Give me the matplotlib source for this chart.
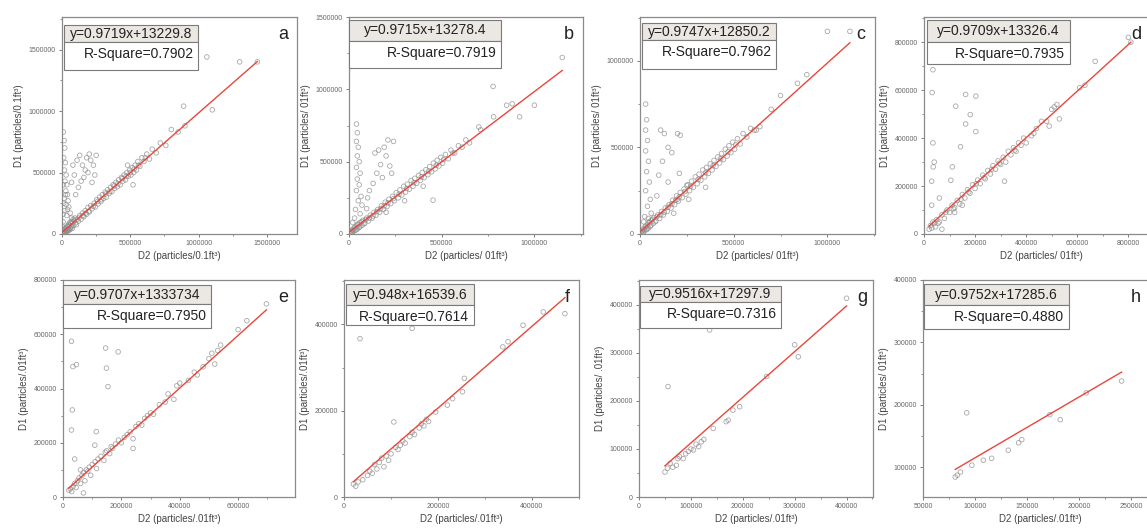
import numpy as np
import matplotlib
matplotlib.use("Agg")
import matplotlib.pyplot as plt
from matplotlib.patches import Rectangle
from matplotlib.ticker import MultipleLocator, AutoMinorLocator

plt.rcParams['font.family'] = ['Liberation Sans', 'DejaVu Sans']

# point values, in thousands of particles
pts_a = [(10, 5), (15, 20), (20, 10), (25, 35), (30, 15), (35, 45), (40, 30), (45, 60), (50, 40), (55, 70),
         (60, 50), (65, 85), (70, 60), (80, 95), (85, 70), (90, 110), (100, 90), (110, 120), (120, 105),
         (130, 150), (140, 120), (150, 170), (160, 140), (170, 190), (180, 160), (190, 215), (200, 180),
         (210, 230), (220, 205), (235, 250), (245, 220), (255, 280), (265, 245), (275, 300), (285, 265),
         (295, 320), (305, 290), (315, 340), (325, 300), (335, 360), (345, 330), (355, 380), (365, 345),
         (375, 400), (385, 370), (395, 420), (405, 385), (415, 440), (425, 400), (435, 460), (445, 430),
         (455, 480), (465, 440), (475, 500), (485, 470), (495, 520), (505, 480), (515, 540), (525, 500),
         (535, 560), (545, 520), (555, 590), (570, 550), (585, 620), (600, 590), (620, 650), (640, 610),
         (660, 690), (690, 660), (720, 740), (760, 720), (800, 850), (850, 830), (900, 880), (890, 1040),
         (1100, 1010), (1060, 1440), (1300, 1400), (1430, 1400), (520, 400), (480, 560),
         (5, 10), (8, 25), (12, 5), (18, 40), (22, 15), (28, 50), (32, 20), (38, 65), (42, 25), (48, 80),
         (52, 30), (58, 95), (62, 40), (68, 100), (75, 45), (82, 120), (95, 130), (105, 75), (125, 135),
         (155, 150), (175, 170), (195, 185), (230, 225), (260, 265), (290, 280), (320, 325), (350, 345),
         (380, 390), (410, 410), (440, 450), (470, 470), (500, 500), (530, 530), (560, 560), (610, 620),
         (10, 830), (15, 760), (20, 700), (12, 620), (25, 580), (18, 520), (30, 480), (22, 430), (35, 400),
         (28, 350), (40, 320), (15, 290), (45, 270), (30, 240), (50, 220), (20, 190), (60, 170), (35, 150),
         (70, 130), (8, 100), (5, 60), (10, 400), (25, 320), (12, 250), (40, 200), (8, 160),
         (110, 600), (130, 640), (150, 560), (170, 520), (180, 620), (200, 650), (210, 600), (190, 500),
         (160, 460), (140, 430), (230, 560), (240, 480), (120, 380), (220, 420), (100, 320), (250, 640),
         (80, 560), (90, 480), (70, 420)]

pts_b = [(10, 15), (15, 5), (20, 30), (25, 20), (30, 40), (35, 25), (40, 55), (45, 35), (50, 65), (55, 45),
         (60, 80), (70, 60), (75, 95), (85, 75), (95, 110), (105, 90), (115, 130), (125, 110), (135, 150),
         (145, 130), (155, 170), (165, 150), (175, 195), (185, 170), (195, 220), (205, 190), (215, 240),
         (225, 210), (235, 260), (245, 230), (255, 285), (265, 250), (275, 305), (285, 270), (295, 330),
         (305, 290), (315, 345), (325, 310), (335, 370), (345, 330), (355, 385), (365, 350), (375, 405),
         (385, 370), (395, 425), (405, 390), (415, 445), (425, 410), (435, 465), (445, 430), (455, 490),
         (465, 450), (475, 510), (485, 470), (495, 530), (505, 490), (520, 550), (535, 520), (550, 580),
         (570, 560), (590, 610), (610, 600), (630, 650), (650, 630), (200, 150), (300, 230), (453, 234),
         (400, 330), (700, 740), (710, 720), (777, 1020), (780, 810), (850, 890), (880, 900), (920, 810),
         (1000, 890), (1150, 1220),
         (5, 8), (12, 22), (18, 10), (28, 45), (38, 30), (48, 70), (58, 50), (68, 85), (80, 70), (90, 100),
         (110, 110), (130, 125), (150, 155), (170, 175), (190, 195), (210, 215), (240, 245), (270, 275),
         (310, 315), (350, 355), (390, 395), (430, 435), (470, 475), (510, 515), (560, 560),
         (40, 760), (45, 700), (40, 640), (50, 600), (45, 540), (55, 500), (40, 460), (60, 420), (45, 380),
         (55, 340), (40, 300), (65, 260), (50, 230), (70, 200), (35, 170), (60, 140), (30, 110), (20, 80),
         (140, 560), (160, 580), (190, 600), (210, 650), (200, 540), (170, 480), (150, 420), (180, 390),
         (220, 470), (130, 350), (230, 420), (110, 300), (100, 250), (95, 175), (240, 640)]

pts_c = [(10, 15), (15, 5), (20, 30), (25, 20), (30, 40), (35, 25), (40, 55), (45, 35), (50, 65), (55, 45),
         (60, 80), (70, 60), (75, 95), (85, 75), (95, 110), (105, 90), (115, 130), (125, 110), (135, 150),
         (145, 130), (155, 170), (165, 150), (175, 195), (185, 170), (195, 220), (205, 190), (215, 240),
         (225, 210), (235, 260), (245, 230), (255, 285), (265, 250), (275, 305), (285, 270), (295, 330),
         (305, 290), (315, 345), (325, 310), (335, 370), (345, 330), (355, 385), (365, 350), (375, 405),
         (385, 370), (395, 425), (405, 390), (415, 445), (425, 410), (435, 465), (445, 430), (455, 490),
         (465, 450), (475, 510), (485, 470), (495, 530), (505, 490), (520, 550), (535, 520), (550, 580),
         (570, 560), (590, 610), (610, 600), (620, 600), (640, 620), (700, 720), (750, 800), (840, 870),
         (890, 920), (1000, 1170), (1120, 1170), (180, 120), (260, 200), (350, 270),
         (5, 8), (12, 22), (18, 10), (28, 45), (38, 30), (48, 70), (58, 50), (68, 85), (80, 70), (90, 100),
         (110, 110), (130, 125), (150, 155), (170, 175), (190, 195), (210, 215), (240, 245), (270, 275),
         (310, 315), (350, 355), (390, 395), (430, 435), (470, 475), (510, 515),
         (30, 750), (35, 660), (30, 600), (40, 540), (30, 480), (45, 420), (35, 360), (50, 300), (30, 250),
         (55, 200), (40, 160), (60, 120), (25, 100), (20, 70), (45, 90),
         (110, 600), (130, 580), (200, 580), (215, 570), (170, 470), (150, 500), (120, 420), (100, 340),
         (210, 350), (150, 300), (250, 280), (90, 220), (200, 200)]

pts_d = [(20, 20), (25, 35), (30, 25), (40, 45), (45, 30), (50, 60), (60, 50), (70, 80), (80, 65), (90, 100),
         (100, 90), (110, 120), (120, 110), (130, 140), (140, 125), (150, 165), (160, 150), (170, 185),
         (180, 170), (190, 205), (200, 190), (210, 225), (220, 210), (230, 245), (240, 230), (250, 265),
         (260, 250), (270, 285), (280, 270), (290, 305), (300, 290), (310, 320), (320, 300), (330, 345),
         (340, 330), (350, 360), (360, 345), (370, 380), (380, 370), (390, 400), (400, 380), (420, 410),
         (440, 440), (460, 470), (480, 470), (490, 450), (500, 520), (510, 530), (520, 540), (530, 480),
         (430, 420), (610, 610), (630, 620), (670, 720), (800, 820), (810, 800), (70, 20), (120, 90),
         (150, 120), (315, 220), (35, 50), (55, 45), (85, 90), (115, 105), (145, 145), (175, 175),
         (205, 210), (235, 235), (265, 270), (295, 295), (355, 350),
         (35, 685), (32, 590), (35, 380), (36, 280), (30, 220), (163, 582), (203, 575), (124, 533),
         (181, 498), (163, 459), (143, 364), (203, 427), (111, 280), (105, 224), (40, 300), (30, 120),
         (60, 150)]

pts_e = [(20, 25), (25, 30), (30, 20), (35, 40), (40, 50), (45, 35), (50, 60), (55, 70), (60, 50), (65, 80),
         (70, 90), (75, 60), (80, 100), (85, 95), (90, 110), (95, 80), (100, 120), (110, 130), (115, 105),
         (120, 140), (130, 150), (140, 135), (145, 165), (150, 170), (160, 160), (165, 185), (170, 180),
         (180, 195), (190, 210), (200, 200), (210, 220), (220, 230), (230, 240), (240, 215), (250, 260),
         (260, 270), (270, 265), (280, 290), (290, 300), (300, 310), (310, 305), (330, 340), (350, 350),
         (360, 380), (380, 360), (390, 410), (400, 420), (430, 430), (450, 460), (460, 450), (480, 480),
         (500, 510), (510, 530), (520, 490), (530, 540), (540, 560), (600, 617), (630, 650), (697, 712),
         (29, 574), (34, 481), (46, 488), (146, 549), (189, 535), (149, 475), (154, 407), (32, 321),
         (29, 247), (114, 241), (109, 191), (240, 179), (40, 140), (60, 100), (70, 15)]

pts_f = [(20, 30), (25, 25), (30, 35), (40, 40), (50, 50), (55, 60), (60, 55), (65, 75), (70, 65), (75, 80),
         (80, 90), (85, 70), (90, 95), (95, 85), (100, 100), (110, 115), (115, 110), (120, 120), (125, 130),
         (130, 125), (140, 140), (145, 150), (150, 145), (160, 160), (165, 170), (170, 165), (175, 180),
         (180, 175), (195, 197), (220, 213), (231, 228), (252, 244), (256, 275), (338, 348), (349, 360),
         (381, 398), (424, 429), (470, 425), (34, 367), (145, 391), (106, 174)]

pts_g = [(50, 52), (55, 60), (60, 70), (65, 62), (72, 66), (75, 80), (78, 84), (85, 80), (90, 90), (95, 95),
         (100, 100), (105, 98), (110, 110), (115, 105), (120, 115), (125, 120), (143, 143), (168, 157),
         (172, 160), (181, 181), (194, 188), (246, 251), (300, 317), (307, 292), (400, 414), (56, 230),
         (136, 348)]

pts_h = [(81, 84), (83, 87), (86, 92), (97, 103), (108, 111), (116, 114), (132, 127), (142, 139), (145, 144),
         (172, 184), (182, 176), (207, 219), (241, 238), (92, 187)]

# fit lines shown in each panel (equation text as printed in the figure)
slopes = [0.9719, 0.9715, 0.9747, 0.9709, 0.9707, 0.948, 0.9516, 0.9752]
intercepts = [13229.8, 13278.4, 12850.2, 13326.4, 13337.34, 16539.6, 17297.9, 17285.6]
eq_labels = ["y=0.9719x+13229.8", "y=0.9715x+13278.4", "y=0.9747x+12850.2", "y=0.9709x+13326.4",
             "y=0.9707x+1333734", "y=0.948x+16539.6", "y=0.9516x+17297.9", "y=0.9752x+17285.6"]
r2_labels = ["R-Square=0.7902", "R-Square=0.7919", "R-Square=0.7962", "R-Square=0.7935",
             "R-Square=0.7950", "R-Square=0.7614", "R-Square=0.7316", "R-Square=0.4880"]
letters = ["a", "b", "c", "d", "e", "f", "g", "h"]
xlabels = ["D2 (particles/0.1ft³)", "D2 (particles/ 01ft³)", "D2 (particles/ 01ft³)", "D2 (particles/ 01ft³)",
           "D2 (particles/.01ft³)", "D2 (particles/.01ft³)", "D2 (particles/.01ft³)", "D2 (particles/.01ft³)"]
ylabels = ["D1 (particles/0.1ft³)", "D1 (particles/ 01ft³)", "D1 (particles/ 01ft³)", "D1 (particles/ 01ft³)",
           "D1 (particles/.01ft³)", "D1 (particles/.01ft³)", "D1 (particles/ .01ft³)", "D1 (particles/ 01ft³)"]

all_pts = [pts_a, pts_b, pts_c, pts_d, pts_e, pts_f, pts_g, pts_h]

# layout (pixels) and axis ranges
W, H = 1147, 532
boxes_px = [(62, 17, 235), (349, 17, 234), (640, 17, 235), (924, 17, 235),
            (63, 280, 232), (344, 280, 235), (639, 280, 234), (923, 280, 235)]
ax_h = 217
xlims = [(0, 1720000), (0, 1262000), (0, 1254000), (0, 920000),
         (0, 795000), (0, 500000), (0, 451000), (50000, 276000)]
ylims = [(0, 1765000), (0, 1500000), (0, 1253000), (0, 905000),
         (0, 800000), (0, 503000), (0, 452000), (52000, 400000)]
xsteps = [500000, 500000, 500000, 200000, 200000, 200000, 100000, 50000]
ysteps = [500000, 500000, 500000, 200000, 200000, 200000, 100000, 100000]
# equation box: x0, x1, row tops / bottom in axes fraction
eq_boxes = [(0.01, 0.58, 0.962, 0.885, 0.755), (0.0, 0.65, 0.985, 0.891, 0.767),
            (0.007, 0.58, 0.974, 0.892, 0.761), (0.013, 0.62, 0.985, 0.884, 0.783),
            (0.0, 0.64, 0.977, 0.888, 0.777), (0.007, 0.553, 0.98, 0.885, 0.792),
            (0.003, 0.608, 0.974, 0.897, 0.777), (0.003, 0.62, 0.98, 0.884, 0.775)]
letter_x = [0.94, 0.94, 0.94, 0.905, 0.95, 0.95, 0.955, 0.905]

fig = plt.figure(figsize=(W / 100, H / 100), dpi=100)

for i in range(8):
    left, top, w = boxes_px[i]
    ax = fig.add_axes([left / W, 1 - (top + ax_h) / H, w / W, ax_h / H])
    pts = np.array(all_pts[i], dtype=float) * 1000
    x, y = pts[:, 0], pts[:, 1]
    ax.scatter(x, y, s=11, facecolors='none', edgecolors='#8c8c8c', linewidths=0.6, alpha=0.75, zorder=2)
    xs = np.array([x.min(), x.max()])
    ax.plot(xs, slopes[i] * xs + intercepts[i], color='#e8473c', lw=1.0, zorder=3)

    ax.set_xlim(*xlims[i])
    ax.set_ylim(*ylims[i])
    ax.xaxis.set_major_locator(MultipleLocator(xsteps[i]))
    ax.yaxis.set_major_locator(MultipleLocator(ysteps[i]))
    ax.xaxis.set_minor_locator(AutoMinorLocator(2))
    ax.yaxis.set_minor_locator(AutoMinorLocator(2))
    ax.ticklabel_format(style='plain', useOffset=False)
    ax.tick_params(which='major', length=2.5, width=0.6, labelsize=5, colors='#666666', pad=2)
    ax.tick_params(which='minor', length=1.5, width=0.5, colors='#666666')
    for sp in ax.spines.values():
        sp.set_color('#8a8a8a')
        sp.set_linewidth(0.9)
    ax.set_xlabel(xlabels[i], fontsize=7, color='#444444', labelpad=3)
    ax.set_ylabel(ylabels[i], fontsize=7, color='#444444', labelpad=3)

    x0, x1, t1, t2, t3 = eq_boxes[i]
    ax.add_patch(Rectangle((x0, t2), x1 - x0, t1 - t2, transform=ax.transAxes, facecolor='#ebe7e3',
                           edgecolor='#7a7a7a', lw=0.8, zorder=4, clip_on=False))
    ax.add_patch(Rectangle((x0, t3), x1 - x0, t2 - t3, transform=ax.transAxes, facecolor='white',
                           edgecolor='#7a7a7a', lw=0.8, zorder=4, clip_on=False))
    ax.text((x0 + x1) / 2, (t1 + t2) / 2, eq_labels[i], transform=ax.transAxes, ha='center', va='center',
            fontsize=10, color='#222222', zorder=5)
    ax.text(x1 - 0.02, t2 - 0.055, r2_labels[i], transform=ax.transAxes, ha='right', va='center',
            fontsize=10, color='#222222', zorder=5)
    ax.text(letter_x[i], 0.92, letters[i], transform=ax.transAxes, ha='center', va='center',
            fontsize=13, color='#222222', zorder=5)

fig.savefig("out.png", dpi=100)
